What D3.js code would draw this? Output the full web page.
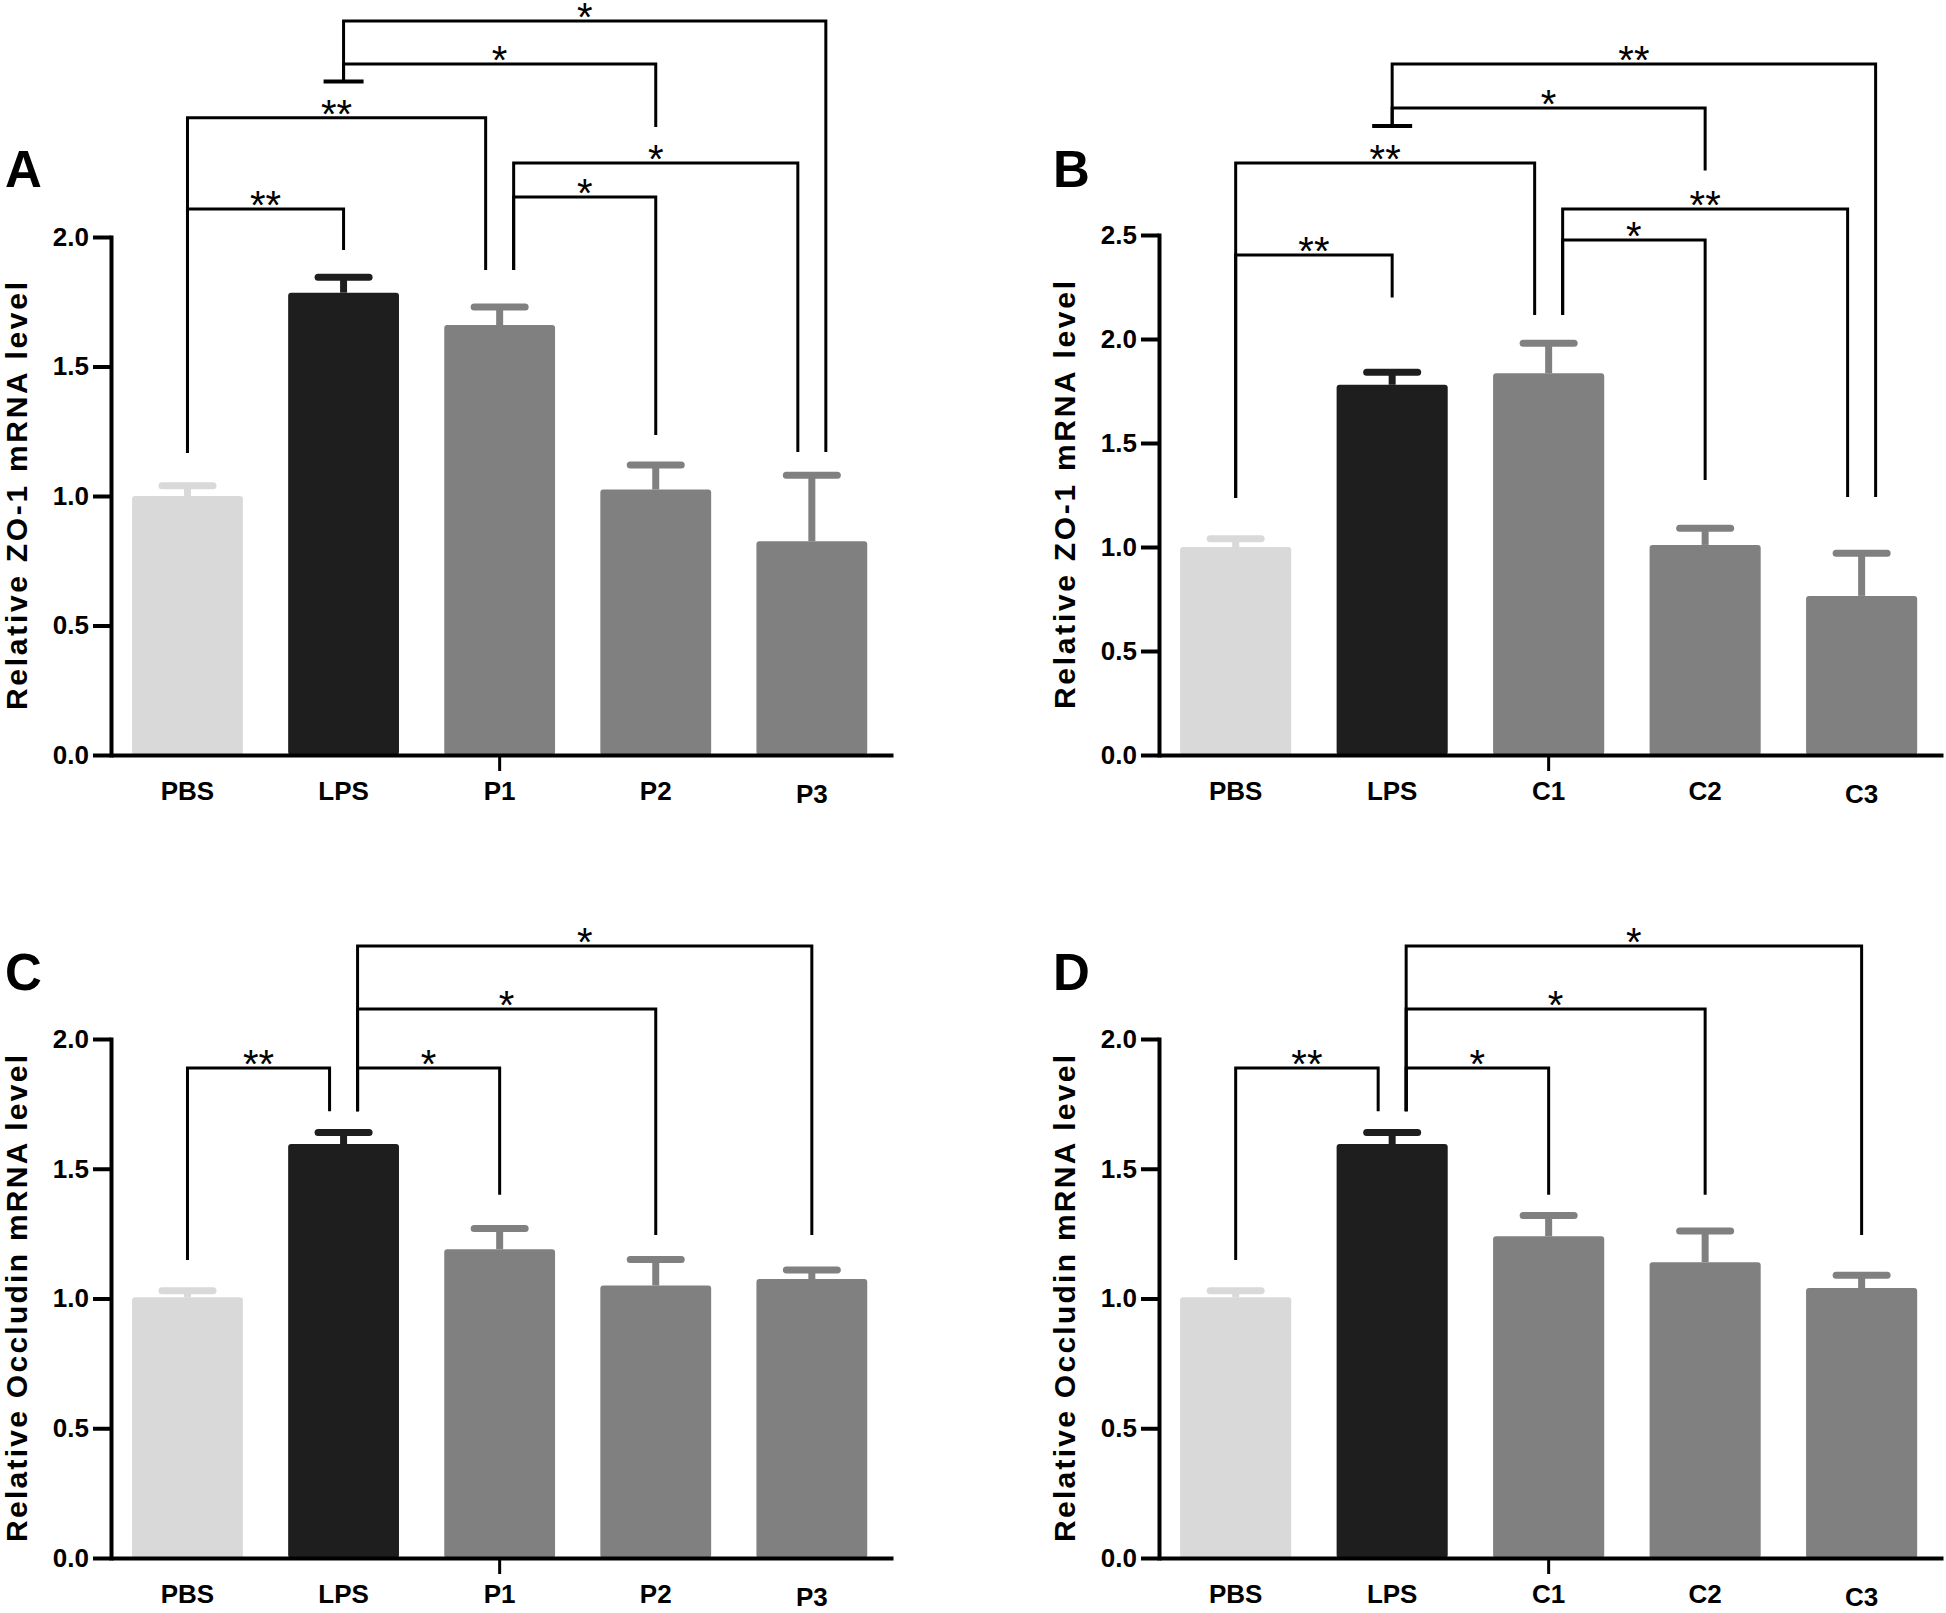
<!DOCTYPE html>
<html>
<head>
<meta charset="utf-8">
<script src="https://cdn.jsdelivr.net/npm/d3@7"></script>
<style>
  body { margin: 0; background: #fff; }
  text { font-family: "Liberation Sans", Arial, sans-serif; }
</style>
</head>
<body>
<svg width="1946" height="1613"></svg>
<script>
// group names
let groupsP = ["PBS", "LPS", "P1", "P2", "P3"]
let groupsC = ["PBS", "LPS", "C1", "C2", "C3"]

// ZO-1 (A, B) and Occludin (C, D) means, with the upper error (SEM)
let zo1P = [1.00, 1.785, 1.66, 1.025, 0.825]
let zo1PErr = [0.04, 0.06, 0.07, 0.095, 0.255]
let zo1C = [1.00, 1.78, 1.835, 1.01, 0.765]
let zo1CErr = [0.04, 0.06, 0.145, 0.08, 0.205]
let occP = [1.005, 1.595, 1.19, 1.05, 1.075]
let occPErr = [0.025, 0.045, 0.08, 0.10, 0.035]
let occC = [1.005, 1.595, 1.24, 1.14, 1.04]
let occCErr = [0.025, 0.045, 0.08, 0.12, 0.05]

// y tick labels
let ticks20 = [0, 0.5, 1.0, 1.5, 2.0]
let ticks25 = [0, 0.5, 1.0, 1.5, 2.0, 2.5]

// significance brackets: [from, fromSide, to, toSide, level, fromEnd, toEnd, label]
let sigA = [
  ["LPS", "c", "P3", "r", 2.834, 2.60, 1.17, "*"],
  ["LPS", "c", "P2", "c", 2.668, 2.60, 2.425, "*"],
  ["PBS", "c", "P1", "l", 2.46, 1.166, 1.873, "**"],
  ["P1", "r", "P3", "l", 2.286, 1.873, 1.17, "*"],
  ["P1", "r", "P2", "c", 2.154, 1.873, 1.236, "*"],
  ["PBS", "c", "LPS", "c", 2.108, 1.166, 1.95, "**"]
]
let sigB = [
  ["LPS", "c", "C3", "r", 3.322, 3.024, 1.24, "**"],
  ["LPS", "c", "C2", "c", 3.11, 3.024, 2.81, "*"],
  ["PBS", "c", "C1", "l", 2.846, 1.236, 2.115, "**"],
  ["C1", "r", "C3", "l", 2.625, 2.115, 1.24, "**"],
  ["C1", "r", "C2", "c", 2.476, 2.115, 1.322, "*"],
  ["PBS", "c", "LPS", "c", 2.404, 1.236, 2.20, "**"]
]
let sigC = [
  ["LPS", "r", "P3", "c", 2.358, 1.722, 1.245, "*"],
  ["LPS", "r", "P2", "c", 2.116, 1.722, 1.245, "*"],
  ["LPS", "r", "P1", "c", 1.888, 1.722, 1.40, "*"],
  ["PBS", "c", "LPS", "l", 1.888, 1.148, 1.722, "**"]
]
let sigD = [
  ["LPS", "r", "C3", "c", 2.358, 1.722, 1.245, "*"],
  ["LPS", "r", "C2", "c", 2.116, 1.722, 1.40, "*"],
  ["LPS", "r", "C1", "c", 1.888, 1.722, 1.40, "*"],
  ["PBS", "c", "LPS", "l", 1.888, 1.148, 1.722, "**"]
]
// the short "T" end where two brackets start (group, level)
let capA = ["LPS", 2.60]
let capB = ["LPS", 3.024]

let colors = ["#d9d9d9", "#1e1e1e", "#808080", "#808080", "#808080"]
let sideOffset = { l: -14, c: 0, r: 14 }

let svg = d3.select("svg")

let drawPanel = (p) => {
  let g = svg.append("g")

  let xScale = d3.scaleBand()
                 .domain(p.groups)
                 .range([p.left, p.right])
                 .paddingInner(0.29)
                 .paddingOuter(0.15)
                 .align(0.45)
  let bw = xScale.bandwidth()
  let cx = name => xScale(name) + bw / 2

  let yScale = d3.scaleLinear()
                 .domain([0, p.ymax])
                 .range([p.base, p.top])

  // bars
  g.selectAll("rect.bar")
   .data(p.values)
   .enter()
   .append("rect")
   .attr("class", "bar")
   .attr("x", (d, i) => xScale(p.groups[i]))
   .attr("width", bw)
   .attr("y", d => yScale(d))
   .attr("height", d => p.base - yScale(d))
   .attr("rx", 3)
   .attr("fill", (d, i) => colors[i])

  // error bars (upper only)
  p.values.forEach((v, i) => {
    let c = cx(p.groups[i])
    let yTop = yScale(v + p.errors[i])
    g.append("line")
     .attr("x1", c).attr("x2", c)
     .attr("y1", yScale(v)).attr("y2", yTop)
     .attr("stroke", colors[i]).attr("stroke-width", 7)
    g.append("line")
     .attr("x1", c - 25.5).attr("x2", c + 25.5)
     .attr("y1", yTop).attr("y2", yTop)
     .attr("stroke", colors[i]).attr("stroke-width", 7)
     .attr("stroke-linecap", "round")
  })

  // y axis
  let yAxis = d3.axisLeft(yScale)
                .tickValues(p.ticks)
                .tickSize(18)
                .tickSizeOuter(0)
                .tickPadding(4)
                .tickFormat(d3.format(".1f"))
  let ya = g.append("g")
            .attr("transform", "translate(" + p.left + ",0)")
            .call(yAxis)
  ya.select(".domain").attr("stroke", "#000").attr("stroke-width", 4).attr("stroke-linecap", "square")
  ya.selectAll(".tick line").attr("stroke", "#000").attr("stroke-width", 4)
  ya.selectAll(".tick text")
    .attr("fill", "#000")
    .style("font-size", "26px")
    .style("font-weight", "bold")

  // x axis, only the middle group has a tick mark
  let xAxis = d3.axisBottom(xScale)
                .tickSize(16)
                .tickSizeOuter(0)
  let xa = g.append("g")
            .attr("transform", "translate(0," + p.base + ")")
            .call(xAxis)
  xa.select(".domain").attr("stroke", "#000").attr("stroke-width", 4)
  xa.selectAll(".tick line")
    .attr("stroke", "#000")
    .attr("stroke-width", 3)
    .attr("opacity", (d, i) => i == 2 ? 1 : 0)
  xa.selectAll(".tick text")
    .attr("y", (d, i) => i == 4 ? 30 : 27)
    .attr("fill", "#000")
    .style("font-size", "26px")
    .style("font-weight", "bold")

  // y axis title
  let midY = (p.base + p.top) / 2
  g.append("text")
   .attr("transform", "translate(" + (p.left - 84) + "," + midY + ") rotate(-90)")
   .attr("text-anchor", "middle")
   .attr("textLength", p.labelLen)
   .attr("lengthAdjust", "spacing")
   .style("font-size", "30px")
   .style("font-weight", "bold")
   .text(p.ylabel)

  // panel letter
  g.append("text")
   .attr("x", p.left - 106)
   .attr("y", p.letterY)
   .style("font-size", "51px")
   .style("font-weight", "bold")
   .text(p.letter)

  // significance brackets
  p.sig.forEach(b => {
    let xl = cx(b[0]) + sideOffset[b[1]]
    let xr = cx(b[2]) + sideOffset[b[3]]
    let yl = yScale(b[4])
    g.append("path")
     .attr("d", "M" + xl + "," + yScale(b[5]) + "V" + yl + "H" + xr + "V" + yScale(b[6]))
     .attr("fill", "none")
     .attr("stroke", "#000")
     .attr("stroke-width", 3)
    g.append("text")
     .attr("x", (xl + xr) / 2)
     .attr("y", yl + 10)
     .attr("text-anchor", "middle")
     .style("font-size", "40px")
     .text(b[7])
  })

  if (p.cap) {
    let c = cx(p.cap[0])
    g.append("line")
     .attr("x1", c - 20).attr("x2", c + 20)
     .attr("y1", yScale(p.cap[1])).attr("y2", yScale(p.cap[1]))
     .attr("stroke", "#000").attr("stroke-width", 4)
  }
}

drawPanel({ letter: "A", groups: groupsP, values: zo1P, errors: zo1PErr, ymax: 2.0, ticks: ticks20,
            left: 111, right: 893, base: 755, top: 237, letterY: 187, sig: sigA, cap: capA,
            ylabel: "Relative ZO-1 mRNA level", labelLen: 428 })
drawPanel({ letter: "B", groups: groupsC, values: zo1C, errors: zo1CErr, ymax: 2.5, ticks: ticks25,
            left: 1159, right: 1943, base: 755, top: 235, letterY: 187, sig: sigB, cap: capB,
            ylabel: "Relative ZO-1 mRNA level", labelLen: 428 })
drawPanel({ letter: "C", groups: groupsP, values: occP, errors: occPErr, ymax: 2.0, ticks: ticks20,
            left: 111, right: 893, base: 1558, top: 1039, letterY: 990, sig: sigC, cap: null,
            ylabel: "Relative Occludin mRNA level", labelLen: 487 })
drawPanel({ letter: "D", groups: groupsC, values: occC, errors: occCErr, ymax: 2.0, ticks: ticks20,
            left: 1159, right: 1943, base: 1558, top: 1039, letterY: 990, sig: sigD, cap: null,
            ylabel: "Relative Occludin mRNA level", labelLen: 487 })
</script>
</body>
</html>
